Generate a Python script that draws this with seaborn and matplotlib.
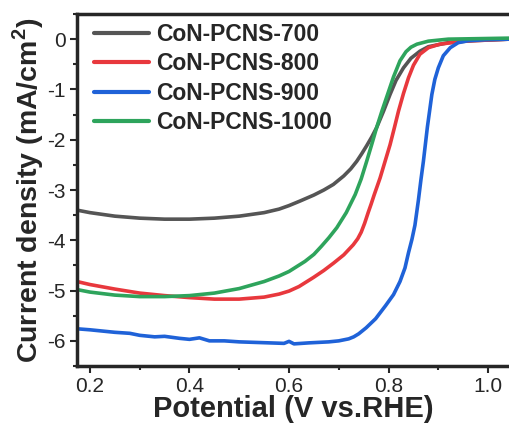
import numpy as np
import pandas as pd
import matplotlib
matplotlib.use('Agg')
import matplotlib.pyplot as plt
import seaborn as sns
from matplotlib.ticker import MultipleLocator

# potential (V vs RHE) and current density (mA/cm2)
pot_700 = [0.174, 0.20, 0.25, 0.30, 0.35, 0.40, 0.45, 0.50, 0.55, 0.58, 0.60, 0.622, 0.65, 0.67, 0.689, 0.71,
           0.724, 0.736, 0.746, 0.756, 0.766, 0.776, 0.79, 0.803, 0.815, 0.83, 0.845, 0.863, 0.88, 0.92, 0.97, 1.042]
cur_700 = [-3.40, -3.45, -3.52, -3.56, -3.58, -3.58, -3.56, -3.52, -3.45, -3.38, -3.31, -3.22, -3.10, -3.00, -2.89,
           -2.72, -2.58, -2.43, -2.28, -2.12, -1.95, -1.76, -1.43, -1.10, -0.82, -0.57, -0.38, -0.24, -0.15,
           -0.07, -0.03, 0.0]

pot_800 = [0.174, 0.20, 0.25, 0.30, 0.35, 0.40, 0.45, 0.50, 0.55, 0.58, 0.60, 0.62, 0.649, 0.67, 0.69, 0.71,
           0.729, 0.738, 0.745, 0.752, 0.759, 0.765, 0.771, 0.783, 0.793, 0.803, 0.812, 0.820, 0.830, 0.840,
           0.850, 0.863, 0.88, 0.903, 0.95, 1.042]
cur_800 = [-4.82, -4.88, -4.97, -5.05, -5.10, -5.14, -5.17, -5.17, -5.13, -5.07, -5.01, -4.92, -4.74, -4.60, -4.45,
           -4.29, -4.09, -3.97, -3.84, -3.66, -3.45, -3.28, -3.10, -2.76, -2.43, -2.10, -1.75, -1.43, -1.08,
           -0.77, -0.52, -0.30, -0.17, -0.10, -0.04, 0.0]

pot_900 = [0.174, 0.20, 0.25, 0.28, 0.30, 0.33, 0.35, 0.38, 0.40, 0.42, 0.44, 0.47, 0.50, 0.53, 0.56, 0.59,
           0.60, 0.61, 0.64, 0.66, 0.68, 0.70, 0.72, 0.73, 0.74, 0.755, 0.774, 0.794, 0.81, 0.823, 0.833, 0.84,
           0.847, 0.853, 0.86, 0.865, 0.870, 0.878, 0.887, 0.893, 0.900, 0.91, 0.924, 0.94, 0.96, 1.0, 1.042]
cur_900 = [-5.76, -5.78, -5.83, -5.85, -5.89, -5.92, -5.91, -5.95, -5.97, -5.94, -6.00, -6.00, -6.02, -6.03, -6.04,
           -6.05, -6.01, -6.06, -6.04, -6.03, -6.02, -6.00, -5.96, -5.92, -5.86, -5.74, -5.56, -5.30, -5.08,
           -4.82, -4.55, -4.25, -3.98, -3.70, -3.20, -2.80, -2.43, -1.75, -1.10, -0.80, -0.57, -0.33, -0.17,
           -0.07, -0.03, -0.01, 0.0]

pot_1000 = [0.174, 0.20, 0.25, 0.30, 0.35, 0.40, 0.45, 0.50, 0.55, 0.58, 0.60, 0.632, 0.65, 0.665, 0.68, 0.696,
            0.715, 0.733, 0.745, 0.756, 0.766, 0.776, 0.787, 0.798, 0.81, 0.823, 0.835, 0.845, 0.857, 0.88,
            0.92, 1.042]
cur_1000 = [-4.98, -5.03, -5.09, -5.12, -5.12, -5.10, -5.05, -4.96, -4.82, -4.71, -4.62, -4.42, -4.28, -4.12, -3.95,
            -3.75, -3.45, -3.09, -2.78, -2.43, -2.10, -1.76, -1.42, -1.10, -0.75, -0.43, -0.25, -0.16, -0.10,
            -0.04, 0.0, 0.02]

labels = ['CoN-PCNS-700', 'CoN-PCNS-800', 'CoN-PCNS-900', 'CoN-PCNS-1000']
colors = ['#555555', '#e8383d', '#1f62d8', '#2ea45c']

frames = []
for lab, p, c in zip(labels, [pot_700, pot_800, pot_900, pot_1000], [cur_700, cur_800, cur_900, cur_1000]):
    frames.append(pd.DataFrame({'Potential': p, 'Current': c, 'Sample': lab}))
df = pd.concat(frames, ignore_index=True)

sns.set_style('ticks')
plt.rcParams['font.family'] = ['Liberation Sans', 'DejaVu Sans']
plt.rcParams['axes.unicode_minus'] = False
plt.rcParams['mathtext.fontset'] = 'custom'
plt.rcParams['mathtext.rm'] = 'Liberation Sans'
plt.rcParams['mathtext.bf'] = 'Liberation Sans:bold'

fig = plt.figure(figsize=(5.09, 4.23), dpi=100)
ax = fig.add_axes([77 / 509, 1 - 366 / 423, 1 - 77 / 509, 352 / 423])

sns.lineplot(data=df, x='Potential', y='Current', hue='Sample', palette=colors,
             hue_order=labels, estimator=None, sort=True, linewidth=2.6, ax=ax)

ax.set_xlim(0.174, 1.042)
ax.set_ylim(-6.5, 0.5)
ax.xaxis.set_minor_locator(MultipleLocator(0.1))
ax.yaxis.set_major_locator(MultipleLocator(1))
ax.yaxis.set_minor_locator(MultipleLocator(0.5))
ax.set_xticks([0.2, 0.4, 0.6, 0.8, 1.0])
ax.set_xticklabels(['0.2', '0.4', '0.6', '0.8', '1.0'])
ax.tick_params(axis='both', which='major', direction='out', length=5, width=1.5, labelsize=15, pad=3)
ax.tick_params(axis='both', which='minor', direction='out', length=3, width=1.5)

for s in ['left', 'bottom', 'top']:
    ax.spines[s].set_linewidth(2.5)
ax.spines['right'].set_visible(False)

ax.set_xlabel('Potential (V vs.RHE)', fontsize=21, fontweight='bold', labelpad=-1)
ax.set_ylabel(r'Current density (mA/cm$^\mathbf{2}$)', fontsize=20.5, fontweight='bold', labelpad=1)

leg = ax.legend(loc='upper left', frameon=False, fontsize=16.5, handlelength=2.4,
                bbox_to_anchor=(0.013, 1.007), borderaxespad=0.1, labelspacing=0.28, handletextpad=0.3)
for t in leg.get_texts():
    t.set_fontweight('bold')
for h in leg.get_lines():
    h.set_linewidth(3)

fig.savefig('out.png', dpi=100)
